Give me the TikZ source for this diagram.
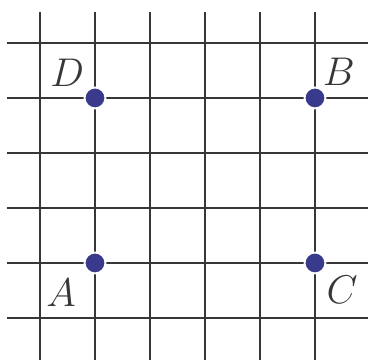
\documentclass[tikz,border=0pt]{standalone}
\usetikzlibrary{positioning}

\definecolor{dotblue}{RGB}{58,58,140}
\definecolor{gridgray}{RGB}{55,55,55}

\begin{document}
\begin{tikzpicture}[x=1cm,y=1cm]
  \tikzset{
    gridline/.style={gridgray,line width=0.9pt},
    gridpt/.style={circle,fill=dotblue,draw=white,line width=1pt,inner sep=0pt,minimum size=0.38cm},
    ptlabel/.style={text=gridgray,font=\fontsize{20}{24}\selectfont,inner sep=0pt}
  }
  \useasboundingbox (0,0) rectangle (6.691,6.545);

  % Grid lines
  \foreach \i in {0,...,5} {
    \draw[gridline] (0.727+\i,0) -- (0.727+\i,6.33);
    \draw[gridline] (0.13,5.764-\i) -- (6.691,5.764-\i);
  }

  % Points
  \node[gridpt] (D) at (1.727,4.764) {};
  \node[gridpt] (B) at (5.727,4.764) {};
  \node[gridpt] (A) at (1.727,1.764) {};
  \node[gridpt] (C) at (5.727,1.764) {};

  % Labels
  \node[ptlabel] (labD) at (1.22,5.22) {$D$};
  \node[ptlabel] (labB) at (6.16,5.24) {$B$};
  \node[ptlabel] (labA) at (1.11,1.22) {$A$};
  \node[ptlabel] (labC) at (6.22,1.27) {$C$};
\end{tikzpicture}
\end{document}
